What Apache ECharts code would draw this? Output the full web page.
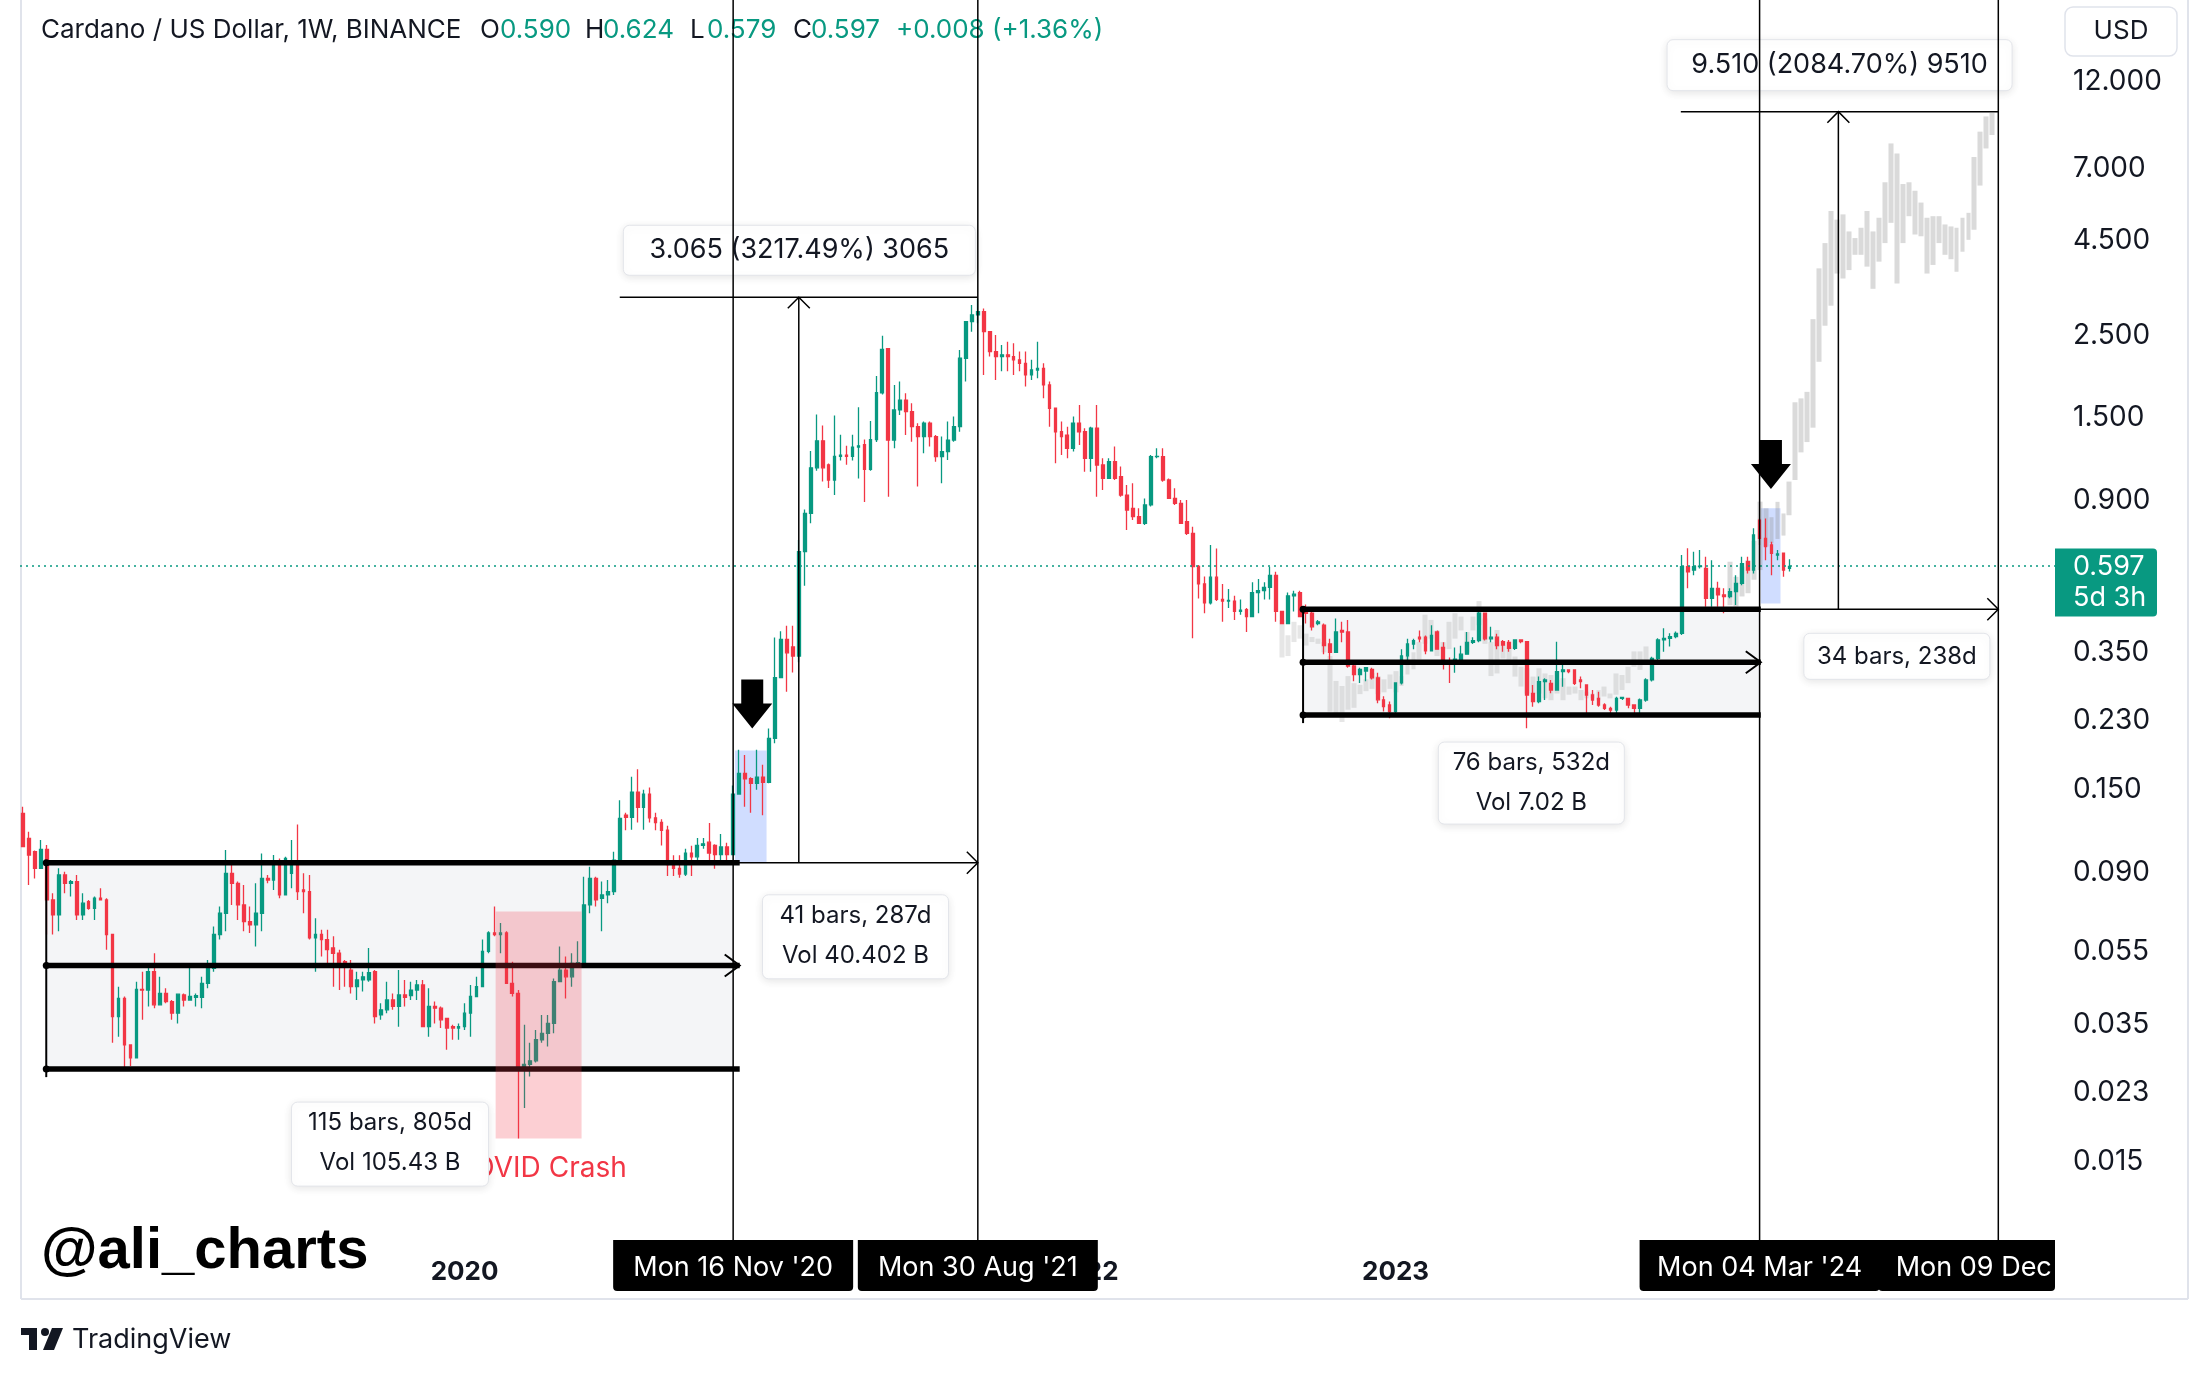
<!DOCTYPE html>
<html lang="en">
<head>
<meta charset="UTF-8">
<title>Cardano / US Dollar, 1W, BINANCE</title>
<script src="https://cdn.jsdelivr.net/npm/echarts@6/dist/echarts.min.js"></script>
<style>
  html, body { margin: 0; padding: 0; background: #fff; }
  #main { width: 2209px; height: 1379px; }
</style>
</head>
<body>
<div id="main"></div>
<script type="text/javascript">
// weekly bars, first bar is the week of Mon 06 Aug 2018
var firstWeek = Date.UTC(2018, 7, 6);
var weekCount = 341;
var yearLabels = ['2020', '2021', '2022', '2023', '2024'];
var priceTicks = [12, 7, 4.5, 2.5, 1.5, 0.9, 0.35, 0.23, 0.15, 0.09, 0.055, 0.035, 0.023, 0.015];
var priceMin = 0.009237, priceMax = 19.9;
var lastPrice = 0.597;

// [open, close, low, high]
var ohlc2018 = [
  [0.1296,0.1054,0.1054,0.135],[0.111,0.1001,0.0832,0.1156],[0.1022,0.0922,0.0866,0.103],[0.0922,0.1036,0.0922,0.1099],
  [0.1036,0.0758,0.0612,0.1065],[0.0758,0.0691,0.0612,0.079],[0.0691,0.0885,0.0624,0.0922],[0.0885,0.084,0.079,0.0903],
  [0.084,0.0849,0.0774,0.0857],[0.0849,0.0691,0.067,0.0885],[0.0691,0.0743,0.067,0.079],[0.075,0.072,0.0713,0.0758],
  [0.072,0.0766,0.067,0.0774],[0.0766,0.0758,0.0758,0.0815],[0.0758,0.0612,0.0557,0.0766],[0.0612,0.0368,0.0313,0.0612],
  [0.0368,0.0412,0.0325,0.0443],[0.0412,0.0309,0.0268,0.0417],[0.0309,0.0285,0.0271,0.0309],[0.0285,0.0436,0.0285,0.0457],
  [0.0436,0.0434,0.0361,0.0486],[0.0434,0.0486,0.0392,0.0507]
];
var ohlc2019 = [
  [0.0486,0.0396,0.0388,0.0545],[0.0396,0.0425,0.0396,0.0471],[0.0425,0.0404,0.04,0.0439],[0.0404,0.0376,0.0361,0.0408],
  [0.0376,0.0423,0.0353,0.0425],[0.0421,0.0408,0.0392,0.0425],[0.0408,0.0417,0.0408,0.0501],[0.0415,0.0419,0.0392,0.0425],
  [0.0415,0.0452,0.0388,0.0471],[0.0452,0.0496,0.0439,0.0523],[0.0496,0.0612,0.0486,0.0643],[0.0612,0.0698,0.0593,0.0728],
  [0.0698,0.0894,0.0624,0.1033],[0.0894,0.084,0.0735,0.0941],[0.084,0.0735,0.067,0.0849],[0.0735,0.0663,0.0624,0.0832],
  [0.0663,0.065,0.0618,0.0728],[0.065,0.0698,0.0568,0.084],[0.0698,0.0866,0.0624,0.1011],[0.0866,0.0857,0.084,0.0885],
  [0.0857,0.096,0.0806,0.1001],[0.096,0.0782,0.0766,0.098],[0.0782,0.098,0.0782,0.099],[0.0894,0.096,0.0815,0.1099],
  [0.096,0.0798,0.0758,0.121],[0.0806,0.0798,0.0698,0.0894],[0.0798,0.0599,0.0593,0.0885],[0.0599,0.0612,0.0486,0.0677],
  [0.0612,0.0593,0.0534,0.063],[0.0593,0.0557,0.0501,0.063],[0.0563,0.0545,0.0443,0.0605],[0.0545,0.0501,0.0434,0.0557],
  [0.0517,0.0501,0.0443,0.0523],[0.0491,0.0443,0.0425,0.0523],[0.0443,0.0462,0.0408,0.0486],[0.0462,0.0471,0.043,0.0486],
  [0.0462,0.0483,0.0457,0.0563],[0.0486,0.0368,0.0353,0.0491],[0.0372,0.0384,0.0361,0.04],[0.0384,0.0408,0.0376,0.0457],
  [0.0408,0.0392,0.0384,0.0425],[0.0392,0.0421,0.0346,0.0491],[0.0421,0.0415,0.0392,0.0462],[0.0419,0.0434,0.0408,0.0457],
  [0.0434,0.0448,0.0408,0.0462],[0.0448,0.0346,0.0346,0.0462],[0.0346,0.0392,0.0325,0.0439],[0.0392,0.0388,0.0353,0.0404],
  [0.0388,0.0361,0.0343,0.0392],[0.0364,0.0343,0.03,0.0364],[0.0346,0.0343,0.0319,0.035],[0.0343,0.0346,0.0319,0.0353]
];
var ohlc2020 = [
  [0.0346,0.0376,0.0339,0.04],[0.0376,0.0417,0.0325,0.0448],[0.0417,0.0443,0.0417,0.0471],[0.0443,0.0551,0.0443,0.0593],
  [0.0551,0.0618,0.0545,0.0624],[0.0618,0.0612,0.0605,0.0728],[0.0612,0.0618,0.0545,0.0657],[0.0618,0.0452,0.0452,0.0624],
  [0.0452,0.0425,0.0417,0.0517],[0.0425,0.0268,0.0173,0.0434],[0.0268,0.0274,0.0209,0.035],[0.0274,0.028,0.0254,0.0313],
  [0.028,0.0319,0.0277,0.0339],[0.0319,0.0332,0.0313,0.0372],[0.0332,0.0353,0.0306,0.0372],[0.0353,0.0457,0.0332,0.0466],
  [0.0457,0.0491,0.0457,0.0568],[0.0491,0.0471,0.0412,0.0534],[0.0471,0.0512,0.0443,0.0545],[0.051,0.0514,0.0501,0.0587],
  [0.0512,0.0735,0.0507,0.0875],[0.0735,0.0866,0.0698,0.0931],[0.0866,0.0758,0.0728,0.0875],[0.0766,0.0782,0.0624,0.0849],
  [0.0782,0.0798,0.0743,0.0857],[0.0798,0.097,0.0782,0.1022],[0.097,0.1256,0.095,0.1406],[0.1282,0.1263,0.1167,0.13],
  [0.1263,0.1478,0.117,0.1624],[0.1478,0.1345,0.1224,0.1703],[0.1345,0.146,0.117,0.15],[0.146,0.126,0.1224,0.152],
  [0.126,0.1224,0.1167,0.13],[0.1224,0.1167,0.1062,0.125],[0.1167,0.0943,0.0879,0.12],[0.0943,0.0921,0.0879,0.1],
  [0.0921,0.089,0.087,0.1],[0.089,0.1013,0.0879,0.104],[0.1013,0.099,0.0879,0.106],[0.099,0.1062,0.097,0.1113],
  [0.1062,0.1073,0.104,0.1113],[0.1084,0.1013,0.097,0.122],[0.1062,0.1003,0.092,0.107],[0.1003,0.1052,0.097,0.114],
  [0.1052,0.1003,0.097,0.108],[0.1003,0.146,0.1,0.154],[0.146,0.166,0.146,0.192],[0.166,0.1605,0.135,0.186],
  [0.1605,0.156,0.13,0.162],[0.156,0.162,0.15,0.192],[0.162,0.157,0.128,0.175],[0.157,0.206,0.156,0.219]
];
var ohlc2021 = [
  [0.206,0.3,0.2,0.385],[0.3,0.38,0.3,0.4],[0.38,0.35,0.275,0.414],[0.363,0.343,0.31,0.414],
  [0.343,0.655,0.33,0.703],[0.655,0.83,0.53,0.85],[0.83,1.1,0.78,1.22],[1.1,1.3,1.08,1.53],
  [1.3,1.1,1.01,1.43],[1.12,1.02,0.97,1.13],[1.02,1.18,0.93,1.52],[1.18,1.19,1.15,1.35],
  [1.19,1.18,1.12,1.26],[1.18,1.25,1.15,1.35],[1.25,1.26,1.03,1.6],[1.27,1.09,0.89,1.31],
  [1.09,1.31,1.08,1.47],[1.31,1.75,1.29,1.94],[1.75,2.29,1.73,2.49],[2.3,1.306,0.92,2.31],
  [1.306,1.574,1.241,1.837],[1.574,1.673,1.526,1.875],[1.673,1.557,1.347,1.744],[1.557,1.419,1.293,1.639],
  [1.419,1.334,0.98,1.449],[1.334,1.449,1.203,1.464],[1.449,1.334,1.254,1.464],[1.334,1.178,1.142,1.347],
  [1.178,1.216,1.0,1.334],[1.216,1.306,1.154,1.464],[1.306,1.419,1.293,1.51],[1.419,2.167,1.375,2.28],
  [2.167,2.718,1.875,2.718],[2.718,2.833,2.555,3.013],[2.833,2.892,2.69,3.13],[2.892,2.555,1.954,2.95],
  [2.555,2.258,2.189,2.555],[2.258,2.189,1.894,2.503],[2.189,2.213,2.0,2.352],[2.213,2.189,2.0,2.4],
  [2.189,2.146,1.954,2.376],[2.146,2.1,2.0,2.258],[2.1,1.954,1.818,2.258],[1.954,2.015,1.894,2.146],
  [2.015,2.036,1.915,2.401],[2.036,1.837,1.691,2.1],[1.837,1.59,1.419,1.875],[1.59,1.375,1.131,1.59],
  [1.375,1.334,1.191,1.464],[1.347,1.241,1.166,1.419],[1.241,1.449,1.216,1.51],[1.449,1.375,1.267,1.622]
];
var ohlc2022 = [
  [1.375,1.166,1.074,1.405],[1.166,1.405,1.074,1.419],[1.405,1.119,0.92,1.622],[1.119,1.03,0.959,1.166],
  [1.03,1.142,1.03,1.166],[1.142,1.03,1.02,1.254],[1.041,0.929,0.92,1.108],[0.929,0.847,0.748,0.989],
  [0.856,0.813,0.796,0.999],[0.813,0.78,0.78,0.856],[0.78,0.874,0.772,0.91],[0.874,1.178,0.865,1.191],
  [1.178,1.18,1.166,1.241],[1.178,1.02,1.009,1.241],[1.02,0.91,0.91,1.03],[0.91,0.883,0.874,0.969],
  [0.883,0.78,0.78,0.901],[0.788,0.733,0.726,0.901],[0.733,0.597,0.383,0.764],[0.597,0.536,0.49,0.603],
  [0.536,0.477,0.447,0.561],[0.477,0.559,0.472,0.682],[0.559,0.487,0.482,0.667],[0.487,0.482,0.424,0.536],
  [0.482,0.484,0.4616,0.5195],[0.482,0.452,0.4287,0.498],[0.452,0.456,0.4426,0.487],[0.4568,0.438,0.398,0.4616],
  [0.438,0.508,0.438,0.542],[0.508,0.514,0.447,0.553],[0.514,0.525,0.487,0.542],[0.525,0.5654,0.487,0.5965],
  [0.5654,0.452,0.424,0.578],[0.452,0.4196,0.4196,0.452],[0.4196,0.498,0.4196,0.508],[0.498,0.503,0.452,0.514],
  [0.508,0.438,0.438,0.514],[0.4568,0.447,0.4196,0.472],[0.447,0.411,0.402,0.4568],[0.4196,0.424,0.415,0.4287],
  [0.415,0.3657,0.347,0.4196],[0.3695,0.3507,0.3328,0.3815],[0.3507,0.398,0.3507,0.433],[0.402,0.398,0.3735,0.424],
  [0.398,0.3225,0.3191,0.4287],[0.3225,0.306,0.2935,0.3293],[0.306,0.3158,0.2904,0.3191],[0.3125,0.3191,0.2935,0.3191],
  [0.3158,0.2997,0.2966,0.3191],[0.2997,0.2616,0.2562,0.3093],[0.2616,0.2509,0.2433,0.2674],[0.2535,0.2433,0.2335,0.2589]
];
var ohlc2023 = [
  [0.2433,0.2904,0.2408,0.2904],[0.2904,0.3434,0.2874,0.358],[0.3434,0.3695,0.3259,0.3815],[0.3695,0.3775,0.358,0.3815],
  [0.3855,0.3815,0.3735,0.402],[0.3855,0.3544,0.347,0.3895],[0.3544,0.3895,0.3544,0.415],[0.398,0.358,0.358,0.402],
  [0.3619,0.3293,0.3158,0.3735],[0.3293,0.3259,0.2904,0.34],[0.3259,0.3363,0.3093,0.3619],[0.3363,0.347,0.3363,0.3657],
  [0.347,0.3735,0.347,0.398],[0.3735,0.3775,0.3695,0.3855],[0.3775,0.447,0.3735,0.4568],[0.447,0.3815,0.3775,0.447],
  [0.3815,0.3855,0.3735,0.411],[0.3855,0.3657,0.358,0.394],[0.375,0.3673,0.3525,0.3789],[0.3735,0.3598,0.3525,0.3789],
  [0.3598,0.3789,0.3561,0.3796],[0.3789,0.375,0.3711,0.3796],[0.375,0.2695,0.2193,0.375],[0.2723,0.2586,0.2507,0.2867],
  [0.2586,0.2928,0.2559,0.302],[0.2928,0.2959,0.2613,0.299],[0.2897,0.278,0.2723,0.2959],[0.278,0.3114,0.278,0.375],
  [0.3114,0.3146,0.2838,0.3347],[0.3146,0.3114,0.3082,0.316],[0.3146,0.2897,0.2867,0.316],[0.2959,0.2928,0.2809,0.302],
  [0.2867,0.2695,0.2405,0.2867],[0.2695,0.2613,0.2533,0.278],[0.2639,0.2533,0.2507,0.2751],[0.2533,0.2481,0.2455,0.2559],
  [0.2481,0.2455,0.2405,0.2507],[0.2455,0.2639,0.2405,0.2667],[0.2639,0.2656,0.2613,0.2667],[0.2639,0.2533,0.2481,0.2639],
  [0.2533,0.2481,0.2405,0.2533],[0.2481,0.2613,0.2405,0.2639],[0.2613,0.2959,0.2586,0.299],[0.2959,0.3382,0.2928,0.3417],
  [0.3382,0.3789,0.3347,0.3828],[0.3789,0.3828,0.3525,0.4073],[0.3828,0.3868,0.3636,0.3949],[0.3868,0.3949,0.3828,0.399],
  [0.3949,0.5965,0.3908,0.641],[0.5965,0.578,0.5216,0.668],[0.584,0.5965,0.566,0.654],[0.5965,0.5985,0.59,0.661]
];
var ohlc2024 = [
  [0.59,0.4905,0.4656,0.634],[0.4905,0.5216,0.4656,0.621],[0.5216,0.5007,0.4656,0.543],[0.5007,0.4956,0.447,0.5216],
  [0.4956,0.511,0.4905,0.5216],[0.511,0.538,0.4704,0.566],[0.538,0.608,0.532,0.634],[0.615,0.584,0.572,0.634],
  [0.584,0.726,0.572,0.756],[0.796,0.711,0.682,0.804],[0.711,0.675,0.621,0.804],[0.682,0.648,0.566,0.696],
  [0.641,0.645,0.621,0.661],[0.648,0.584,0.5605,0.648],[0.59,0.597,0.579,0.624]
];

// grey "bars pattern" projections: [low, high] per bar
var ghostRangeStart = 211;
var ghostRange = [
  [0.34,0.429],[0.343,0.39],[0.374,0.424],[0.382,0.415],[0.366,0.394],[0.374,0.386],[0.37,0.382],[0.351,0.374],
  [0.243,0.343],[0.238,0.294],[0.228,0.285],[0.246,0.303],[0.249,0.29],[0.271,0.287],[0.276,0.297],[0.28,0.309],
  [0.271,0.303],[0.274,0.297],[0.28,0.306],[0.274,0.3125],[0.285,0.303],[0.306,0.343],[0.316,0.351],[0.336,0.374],
  [0.37,0.443],[0.382,0.429],[0.343,0.402],[0.358,0.374],[0.358,0.424],[0.382,0.447],[0.402,0.438],[0.351,0.398],
  [0.402,0.438],[0.415,0.482],[0.37,0.433],[0.303,0.374],[0.308,0.403],[0.338,0.367],[0.335,0.364],[0.302,0.342],
  [0.284,0.321],[0.272,0.318],[0.272,0.302],[0.272,0.318],[0.264,0.308],[0.261,0.305],[0.272,0.296],[0.261,0.299],
  [0.27,0.284],[0.272,0.284],[0.261,0.278],[0.264,0.275],[0.264,0.272],[0.261,0.278],[0.267,0.284],[0.264,0.272],
  [0.27,0.308],[0.278,0.305],[0.29,0.321],[0.321,0.353],[0.315,0.353],[0.335,0.364]
];
var ghostRallyStart = 286;
var ghostRally = [
  [0.47,0.615],[0.466,0.56],[0.496,0.597],[0.506,0.621],[0.55,0.7],[0.584,0.892],[0.675,0.856],[0.689,0.81],
  [0.708,0.891],[0.723,0.829],[0.82,1.01],[1.02,1.65],[1.21,1.69],[1.29,1.76],[1.41,2.76],[2.12,3.78],
  [2.65,4.42],[3.0,5.39],[3.66,5.11],[3.55,5.28],[3.74,4.75],[4.11,4.56],[4.11,4.86],[3.82,5.39],
  [3.33,4.75],[3.94,5.17],[4.42,6.44],[5.01,8.19],[3.44,7.69],[4.42,6.37],[5.22,6.44],[4.66,6.11],
  [4.61,5.68],[3.66,5.17],[3.86,5.22],[4.42,5.22],[4.11,4.96],[4.0,4.9],[3.7,4.86],[4.19,5.17],
  [4.51,5.33],[4.8,7.53],[6.31,8.81],[7.94,9.68],[8.63,9.89]
];

// drawings, in bar index / price units
var rangeBoxes = [ // [fromBar, toBar, lineEndBar, low, mid, high]
  [3.9, 119, 120.1, 0.0266, 0.0505, 0.0954],
  [214.5, 291, 291.2, 0.238, 0.330, 0.458]
];
var priceMeasures = [ // [fromBar, toBar, arrowBar, low, high]
  [100, 160, 130, 0.0954, 3.16],
  [277.8, 331, 304.2, 0.458, 9.97]
];
var dateMeasures = [ // [fromBar, toBar, price]
  [119, 160, 0.0954],
  [291, 331, 0.458]
];
var highlights = [ // [fromBar, toBar, low, high]
  [119.3, 124.6, 0.0954, 0.1913],
  [291.2, 294.5, 0.475, 0.856]
];
var covidZone = [79.2, 93.6, 0.0173, 0.0706];
var covidText = [86.6, 0.0144];
var downArrows = [[122.2, 0.219], [292.9, 0.965]];
var markerBars = [119, 160, 291, 331];
var markerLabels = ["Mon 16 Nov '20", "Mon 30 Aug '21", "Mon 04 Mar '24", "Mon 09 Dec '24"];
var notes = [
  { bar: 130.1, price: 3.16, dy: -72, w: 352, h: 50, size: 27, lines: ['3.065 (3217.49%) 3065'] },
  { bar: 304.4, price: 9.97, dy: -72, w: 345, h: 51, size: 27, lines: ['9.510 (2084.70%) 9510'] },
  { bar: 139.5, price: 0.0954, dy: 32, w: 186, h: 84, size: 24, lines: ['41 bars, 287d', 'Vol 40.402 B'] },
  { bar: 61.5, price: 0.0266, dy: 33, w: 197, h: 84, size: 24, lines: ['115 bars, 805d', 'Vol 105.43 B'] },
  { bar: 252.75, price: 0.238, dy: 27, w: 186, h: 82, size: 24, lines: ['76 bars, 532d', 'Vol 7.02 B'] },
  { bar: 314, price: 0.458, dy: 24, w: 186, h: 46, size: 24, lines: ['34 bars, 238d'] }
];

var uiFont = 'Inter, Roboto, "Noto Sans", sans-serif';
var upColor = '#089981', downColor = '#f23645', ink = '#000000', textColor = '#131722';

var weeks = [];
for (var i = 0; i < weekCount; i++) {
  weeks.push(new Date(firstWeek + i * 7 * 864e5).toISOString().slice(0, 10));
}
var candles = [].concat(ohlc2018, ohlc2019, ohlc2020, ohlc2021, ohlc2022, ohlc2023, ohlc2024);

function ghostBars(start, boxes) {
  var out = weeks.map(function () { return '-'; });
  boxes.forEach(function (b, k) { out[start + k] = [b[0], b[1], b[0], b[1]]; });
  return out;
}

function textWidth(str, size) {
  var ctx = document.createElement('canvas').getContext('2d');
  ctx.font = size + 'px ' + uiFont;
  return ctx.measureText(str).width;
}

function txt(x, y, text, size, color, align, weight) {
  return {
    type: 'text', x: x, y: y,
    style: { text: text, fill: color, fontSize: size, fontFamily: uiFont, fontWeight: weight || 'normal',
             align: align || 'center', verticalAlign: 'middle' }
  };
}

function renderBackdrop(params, api) {
  var els = [];
  rangeBoxes.forEach(function (b) {
    var p1 = api.coord([b[0], b[5]]), p2 = api.coord([b[1], b[3]]);
    els.push({ type: 'rect', shape: { x: p1[0], y: p1[1], width: p2[0] - p1[0], height: p2[1] - p1[1] },
               style: { fill: '#f4f5f7' } });
  });
  highlights.forEach(function (h) {
    var p1 = api.coord([h[0], h[3]]), p2 = api.coord([h[1], h[2]]);
    els.push({ type: 'rect', shape: { x: p1[0], y: p1[1], width: p2[0] - p1[0], height: p2[1] - p1[1] },
               style: { fill: 'rgba(41,98,255,0.22)' } });
  });
  return { type: 'group', children: els };
}

function renderDrawings(params, api) {
  var els = [];
  function seg(a, b, w) {
    els.push({ type: 'line', shape: { x1: a[0], y1: a[1], x2: b[0], y2: b[1] }, style: { stroke: ink, lineWidth: w } });
  }
  function chevron(pts, w) {
    els.push({ type: 'polyline', shape: { points: pts }, style: { stroke: ink, lineWidth: w, fill: null } });
  }
  var gridBottom = api.coord([0, priceMin])[1];
  var gridTop = api.coord([0, priceMax])[1];
  var gridRight = api.coord([weekCount - 0.5, priceMin])[0];

  // consolidation ranges
  rangeBoxes.forEach(function (b) {
    var tl = api.coord([b[0], b[5]]), bl = api.coord([b[0], b[3]]);
    seg(tl, [bl[0], bl[1] + 8], 2);
    [b[5], b[4], b[3]].forEach(function (price, k) {
      var s = api.coord([b[0], price]), e = api.coord([b[2], price]);
      seg(s, e, 5.5);
      els.push({ type: 'circle', shape: { cx: s[0], cy: s[1], r: 3.5 }, style: { fill: ink } });
      if (k === 1) chevron([[e[0] - 15, e[1] - 11], e, [e[0] - 15, e[1] + 11]], 2);
    });
  });
  // price and date measures
  priceMeasures.forEach(function (m) {
    seg(api.coord([m[0], m[4]]), api.coord([m[1], m[4]]), 1.5);
    var a0 = api.coord([m[2], m[3]]), a1 = api.coord([m[2], m[4]]);
    seg(a0, a1, 1.5);
    chevron([[a1[0] - 11, a1[1] + 11], a1, [a1[0] + 11, a1[1] + 11]], 1.5);
  });
  dateMeasures.forEach(function (m) {
    var a = api.coord([m[0], m[2]]), b = api.coord([m[1], m[2]]);
    seg(a, b, 1.5);
    chevron([[b[0] - 11, b[1] - 11], b, [b[0] - 11, b[1] + 11]], 1.5);
  });
  // covid crash zone
  var c1 = api.coord([covidZone[0], covidZone[3]]), c2 = api.coord([covidZone[1], covidZone[2]]);
  els.push({ type: 'rect', shape: { x: c1[0], y: c1[1], width: c2[0] - c1[0], height: c2[1] - c1[1] },
             style: { fill: 'rgba(242,54,69,0.24)' } });
  var ct = api.coord(covidText);
  els.push(txt(ct[0], ct[1], 'COVID Crash', 28, downColor));
  // black arrows
  downArrows.forEach(function (a) {
    var p = api.coord(a), x = p[0], y = p[1];
    els.push({ type: 'polygon', shape: { points: [[x - 11, y - 49], [x + 11, y - 49], [x + 11, y - 25], [x + 20, y - 25],
      [x, y], [x - 20, y - 25], [x - 11, y - 25]] }, style: { fill: ink } });
  });
  // note boxes
  notes.forEach(function (n) {
    var p = api.coord([n.bar, n.price]);
    var top = p[1] + n.dy, left = p[0] - n.w / 2;
    els.push({ type: 'rect', shape: { x: left, y: top, width: n.w, height: n.h, r: 6 },
               style: { fill: '#ffffff', stroke: '#e3e5ea', lineWidth: 1, shadowBlur: 8, shadowOffsetY: 2,
                        shadowColor: 'rgba(0,0,0,0.10)' } });
    if (n.lines.length === 1) {
      els.push(txt(p[0], top + n.h / 2, n.lines[0], n.size, textColor));
    } else {
      els.push(txt(p[0], top + 21, n.lines[0], n.size, textColor));
      els.push(txt(p[0], top + 61, n.lines[1], n.size, textColor));
    }
  });
  // vertical lines with their time-axis labels
  markerBars.forEach(function (bar, k) {
    var x = api.coord([bar, priceMin])[0];
    seg([x, gridTop], [x, gridBottom], 1.5);
    var x0 = x - 120, x1 = Math.min(x + 120, gridRight);
    els.push({ type: 'rect', shape: { x: x0, y: gridBottom, width: x1 - x0, height: 51, r: [0, 0, 4, 4] },
               style: { fill: '#000000' } });
    var tw = textWidth(markerLabels[k], 27);
    var tx = x - tw / 2;
    var t = txt(tx, gridBottom + 28, markerLabels[k], 27, '#ffffff', 'left');
    if (x + tw / 2 > x1) {
      t.style.width = x1 - tx + 6;
      t.style.overflow = 'truncate';
      t.style.ellipsis = '';
    }
    els.push(t);
  });
  // last price tag on the price scale
  var pl = api.coord([weekCount - 0.5, lastPrice]);
  els.push({ type: 'rect', shape: { x: pl[0], y: pl[1] - 18, width: 102, height: 68, r: [0, 4, 4, 0] },
             style: { fill: upColor } });
  els.push(txt(pl[0] + 18, pl[1], lastPrice.toFixed(3), 27, '#ffffff', 'left'));
  els.push(txt(pl[0] + 18, pl[1] + 31, '5d 3h', 27, '#ffffff', 'left'));
  return { type: 'group', children: els };
}

var header = [ // [text, x, color]
  ['Cardano / US Dollar, 1W, BINANCE', 41, textColor],
  ['O', 480, textColor], ['0.590', 500, upColor],
  ['H', 585, textColor], ['0.624', 603, upColor],
  ['L', 690, textColor], ['0.579', 707, upColor],
  ['C', 793, textColor], ['0.597', 811, upColor],
  ['+0.008 (+1.36%)', 896, upColor]
];

var graphics = [
  { type: 'line', shape: { x1: 21, y1: 0, x2: 21, y2: 1299 }, style: { stroke: '#e0e3eb', lineWidth: 2 } },
  { type: 'line', shape: { x1: 21, y1: 1299, x2: 2188, y2: 1299 }, style: { stroke: '#e0e3eb', lineWidth: 2 } },
  { type: 'line', shape: { x1: 2188, y1: 0, x2: 2188, y2: 1299 }, style: { stroke: '#e0e3eb', lineWidth: 2 } },
  { type: 'rect', shape: { x: 2065, y: 7, width: 112, height: 49, r: 8 },
    style: { fill: '#ffffff', stroke: '#e0e3eb', lineWidth: 1.5 } },
  txt(2121, 31, 'USD', 26, textColor),
  { type: 'text', x: 41, y: 1252, style: { text: '@ali_charts', fill: '#000000', fontSize: 58, fontWeight: 'bold',
    fontFamily: '"Liberation Sans", Arial, sans-serif', align: 'left', verticalAlign: 'middle' } },
  { type: 'rect', shape: { x: 21, y: 1328, width: 16, height: 7 }, style: { fill: textColor } },
  { type: 'rect', shape: { x: 29, y: 1328, width: 8, height: 22 }, style: { fill: textColor } },
  { type: 'circle', shape: { cx: 45, cy: 1332, r: 4 }, style: { fill: textColor } },
  { type: 'polygon', shape: { points: [[52, 1328], [63, 1328], [54, 1350], [43, 1350]] }, style: { fill: textColor } },
  txt(72, 1340, 'TradingView', 27, textColor, 'left')
];
header.forEach(function (h) { graphics.push(txt(h[1], 30, h[0], 26, h[2], 'left')); });

var myChart = echarts.init(document.getElementById('main'));
myChart.setOption({
  animation: false,
  backgroundColor: '#ffffff',
  textStyle: { fontFamily: uiFont },
  grid: { left: 20, right: 154, top: 0, bottom: 139, containLabel: false, outerBoundsMode: 'none' },
  xAxis: [{
    type: 'category',
    data: weeks,
    boundaryGap: true,
    axisLine: { show: false },
    axisTick: { show: false },
    splitLine: { show: false },
    axisLabel: {
      interval: function (index, value) {
        return value.slice(5, 7) === '01' && +value.slice(8) <= 7 && yearLabels.indexOf(value.slice(0, 4)) >= 0;
      },
      formatter: function (value) { return value.slice(0, 4); },
      margin: 19,
      fontSize: 26,
      fontWeight: 'bold',
      color: textColor
    }
  }, {
    type: 'value', min: -0.5, max: weekCount - 0.5, show: false
  }],
  yAxis: {
    type: 'log',
    logBase: 10,
    position: 'right',
    min: priceMin,
    max: priceMax,
    axisLine: { show: false },
    axisTick: { show: false },
    splitLine: { show: false },
    axisLabel: {
      customValues: priceTicks,
      formatter: function (v) { return Number(v).toFixed(3); },
      margin: 18,
      fontSize: 28,
      color: textColor
    }
  },
  graphic: { elements: graphics },
  series: [{
    type: 'custom',
    name: 'backdrop',
    xAxisIndex: 1,
    z: 1,
    silent: true,
    renderItem: renderBackdrop,
    data: [[0, 1]],
    encode: { x: 0, y: 1 }
  }, {
    type: 'candlestick',
    name: 'pattern 2022',
    z: 2,
    silent: true,
    barWidth: 5.4,
    itemStyle: { color: 'rgba(140,140,140,0.22)', color0: 'rgba(140,140,140,0.22)', borderWidth: 0 },
    data: ghostBars(ghostRangeStart, ghostRange)
  }, {
    type: 'candlestick',
    name: 'pattern 2024',
    z: 2,
    silent: true,
    barWidth: 5.4,
    itemStyle: { color: 'rgba(140,140,140,0.32)', color0: 'rgba(140,140,140,0.32)', borderWidth: 0 },
    data: ghostBars(ghostRallyStart, ghostRally)
  }, {
    type: 'candlestick',
    name: 'ADAUSD',
    z: 3,
    silent: true,
    barWidth: 3.2,
    itemStyle: { color: upColor, color0: downColor, borderColor: upColor, borderColor0: downColor, borderWidth: 1.3 },
    data: candles,
    markLine: {
      silent: true,
      symbol: ['none', 'none'],
      label: { show: false },
      lineStyle: { color: upColor, type: [2, 4], width: 1.5 },
      data: [{ yAxis: lastPrice }]
    }
  }, {
    type: 'custom',
    name: 'drawings',
    xAxisIndex: 1,
    z: 10,
    silent: true,
    renderItem: renderDrawings,
    data: [[0, 1]],
    encode: { x: 0, y: 1 }
  }]
});
</script>
</body>
</html>
